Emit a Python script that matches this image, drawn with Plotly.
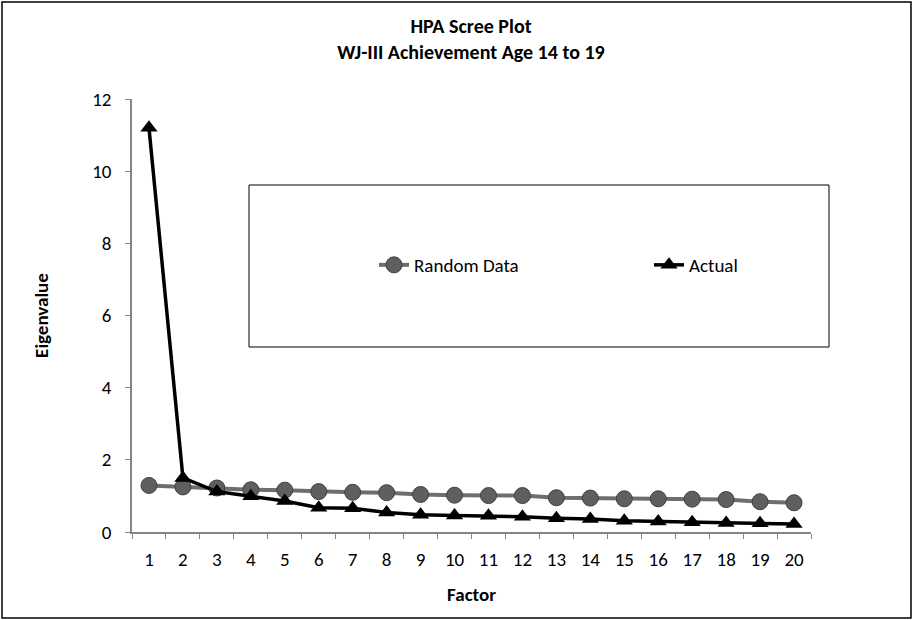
import plotly.graph_objects as go

factors = [str(i) for i in range(1, 21)]
random_data = [1.29, 1.25, 1.22, 1.17, 1.16, 1.12, 1.10, 1.09, 1.04, 1.02,
               1.01, 1.01, 0.95, 0.94, 0.92, 0.92, 0.91, 0.90, 0.84, 0.81]
actual = [11.2, 1.50, 1.12, 0.99, 0.86, 0.67, 0.66, 0.54, 0.48, 0.46,
          0.45, 0.42, 0.38, 0.36, 0.31, 0.29, 0.27, 0.25, 0.24, 0.22]
y_ticks = [0, 2, 4, 6, 8, 10, 12]

FONT = "Carlito, Calibri, 'Liberation Sans Narrow', 'Open Sans', sans-serif"

W, H = 914, 620
L, R, T, B = 132, 103, 99, 88
PW, PH = W - L - R, H - T - B


def px_x(x):
    return (x - L) / PW


def px_y(y):
    return (H - B - y) / PH


fig = go.Figure()
fig.add_trace(go.Scatter(
    x=factors, y=random_data, name="Random Data", mode="lines+markers",
    line=dict(color="#6e6e6e", width=4),
    marker=dict(symbol="circle", size=16, color="#5f5f5f",
                line=dict(color="#3f3f3f", width=1)),
    legend="legend",
))
fig.add_trace(go.Scatter(
    x=factors, y=actual, name="Actual", mode="lines+markers",
    line=dict(color="#000000", width=3.5),
    marker=dict(symbol="triangle-up", size=15, color="#000000"),
    legend="legend2",
))

legend_style = dict(orientation="h", xanchor="left", yanchor="middle",
                    y=px_y(265), bgcolor="rgba(0,0,0,0)", borderwidth=0,
                    font=dict(family=FONT, size=19, color="#000000"))

fig.update_layout(
    width=W, height=H,
    margin=dict(l=L, r=R, t=T, b=B),
    paper_bgcolor="white", plot_bgcolor="white",
    font=dict(family=FONT, size=19, color="#000000"),
    title=dict(text="<b>HPA Scree Plot<br>WJ-III Achievement Age 14 to 19</b>",
               x=px_x(471), xref="paper", xanchor="center",
               y=1 - 33 / H, yref="container", yanchor="middle",
               font=dict(family=FONT, size=20, color="#000000")),
    showlegend=True,
    legend=dict(x=px_x(374), **legend_style),
    legend2=dict(x=px_x(649), **legend_style),
    shapes=[
        dict(type="rect", xref="paper", yref="paper",
             x0=px_x(249), x1=px_x(829), y0=px_y(347), y1=px_y(185),
             line=dict(color="#000000", width=1), layer="below"),
        dict(type="rect", xref="paper", yref="paper",
             x0=px_x(2), x1=px_x(911), y0=px_y(618), y1=px_y(2),
             line=dict(color="#000000", width=1.5), layer="below"),
    ],
)

fig.update_xaxes(
    type="category", tickson="boundaries", range=[-0.5, 19.5],
    showline=True, linecolor="#868686", linewidth=1.5,
    ticks="outside", ticklen=5, tickcolor="#868686",
    ticklabelstandoff=9,
    showgrid=False, zeroline=False,
    tickfont=dict(family=FONT, size=19, color="#000000"),
    title=dict(text="<b>Factor</b>", standoff=18,
               font=dict(family=FONT, size=19, color="#000000")),
)
fig.update_yaxes(
    range=[0, 12], tickvals=y_ticks,
    showline=True, linecolor="#868686", linewidth=1.5,
    ticks="outside", ticklen=5, tickcolor="#868686",
    ticklabelstandoff=10,
    showgrid=False, zeroline=False,
    tickfont=dict(family=FONT, size=19, color="#000000"),
    title=dict(text="<b>Eigenvalue</b>", standoff=39,
               font=dict(family=FONT, size=19, color="#000000")),
)

fig.write_html("out.html", config={"displayModeBar": False},
               post_script="document.body.style.margin='0';")
